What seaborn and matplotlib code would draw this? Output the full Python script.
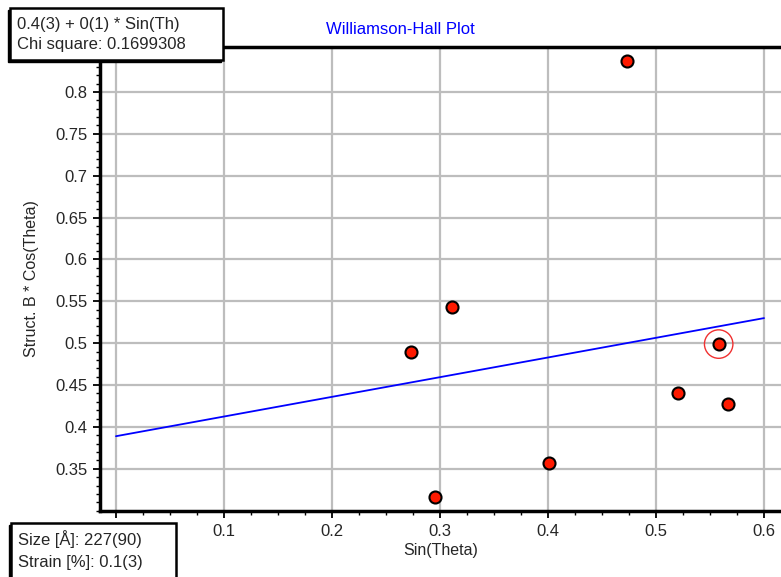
import matplotlib
matplotlib.use('Agg')
import matplotlib.pyplot as plt
from matplotlib.patches import Rectangle
from matplotlib.ticker import MultipleLocator
import pandas as pd
import seaborn as sns

# data
sin_theta = [0.473, 0.311, 0.273, 0.558, 0.520, 0.567, 0.401, 0.295]
b_cos_theta = [0.837, 0.543, 0.489, 0.499, 0.440, 0.428, 0.357, 0.316]
fit_x = [0.0, 0.6]
fit_y = [0.389, 0.530]
selected = 3  # point with the red ring

x_ticks = [0.0, 0.1, 0.2, 0.3, 0.4, 0.5, 0.6]
x_labels = ['', '0.1', '0.2', '0.3', '0.4', '0.5', '0.6']
y_ticks = [0.35, 0.4, 0.45, 0.5, 0.55, 0.6, 0.65, 0.7, 0.75, 0.8]
y_labels = ['0.35', '0.4', '0.45', '0.5', '0.55', '0.6', '0.65', '0.7', '0.75', '0.8']

fit_text = ['0.4(3) + 0(1) * Sin(Th)', 'Chi square: 0.1699308']
result_text = ['Size [Å]: 227(90)', 'Strain [%]: 0.1(3)']

W, H = 781, 577

sns.set_theme(style='white')
plt.rcParams['font.family'] = ['Liberation Sans', 'DejaVu Sans']

df = pd.DataFrame({'x': sin_theta, 'y': b_cos_theta})
fit = pd.DataFrame({'x': fit_x, 'y': fit_y})

fig = plt.figure(figsize=(W / 100, H / 100), dpi=100)
ax = fig.add_axes([100 / W, (H - 511) / H, (W - 100) / W, (511 - 47) / H])

ax.grid(True, which='major', color='#bdbdbd', linewidth=1.6)
ax.set_axisbelow(True)

sns.lineplot(data=fit, x='x', y='y', ax=ax, color='#0000ff', linewidth=1.3, zorder=3)
sns.scatterplot(data=df, x='x', y='y', ax=ax, color='#ff1a00', edgecolor='black',
                linewidth=1.5, s=75, zorder=4)
ax.scatter([sin_theta[selected]], [b_cos_theta[selected]], s=420, facecolor='none',
           edgecolor='#f03030', linewidth=1.0, zorder=5)

ax.set_xlim(-0.0148, 0.6157)
ax.set_ylim(0.2997, 0.8537)
ax.set_xticks(x_ticks)
ax.set_xticklabels(x_labels)
ax.xaxis.set_minor_locator(MultipleLocator(0.025))
ax.set_yticks(y_ticks)
ax.set_yticklabels(y_labels)
ax.yaxis.set_minor_locator(MultipleLocator(0.01))
ax.tick_params(which='major', direction='out', length=5, width=1.3, color='black',
               labelsize=12, pad=4, bottom=True, left=True)
ax.tick_params(which='minor', direction='out', length=3, width=1.0, color='black',
               bottom=True, left=True)
ax.set_xlabel('Sin(Theta)', fontsize=11.5, labelpad=3)
ax.set_ylabel('Struct. B * Cos(Theta)', fontsize=11.5, labelpad=12)

for side in ['left', 'bottom', 'top']:
    ax.spines[side].set_color('black')
    ax.spines[side].set_linewidth(2.5)
ax.spines['right'].set_visible(False)

fig.text(400 / W, 1 - 30 / H, 'Williamson-Hall Plot', color='#0000ff', fontsize=12,
         ha='center', va='center')


def px_box(x0, y0, x1, y1, lines, line_y):
    # box with a small dark shadow to the lower left, pixel coords from top-left
    fig.patches.append(Rectangle(((x0 - 2) / W, 1 - (y1 + 2) / H),
                                 (x1 - x0) / W, (y1 - y0) / H, transform=fig.transFigure,
                                 facecolor='black', edgecolor='black', zorder=10))
    fig.patches.append(Rectangle((x0 / W, 1 - y1 / H), (x1 - x0) / W, (y1 - y0) / H,
                                 transform=fig.transFigure, facecolor='white',
                                 edgecolor='black', linewidth=1.8, zorder=11))
    for t, ty in zip(lines, line_y):
        fig.text((x0 + 7) / W, 1 - ty / H, t, fontsize=12, ha='left', va='center',
                 zorder=12)


px_box(10, 8, 223, 60, fit_text, [24, 45])
px_box(11, 523, 176, 590, result_text, [539, 562])

fig.savefig('out.png', dpi=100)
